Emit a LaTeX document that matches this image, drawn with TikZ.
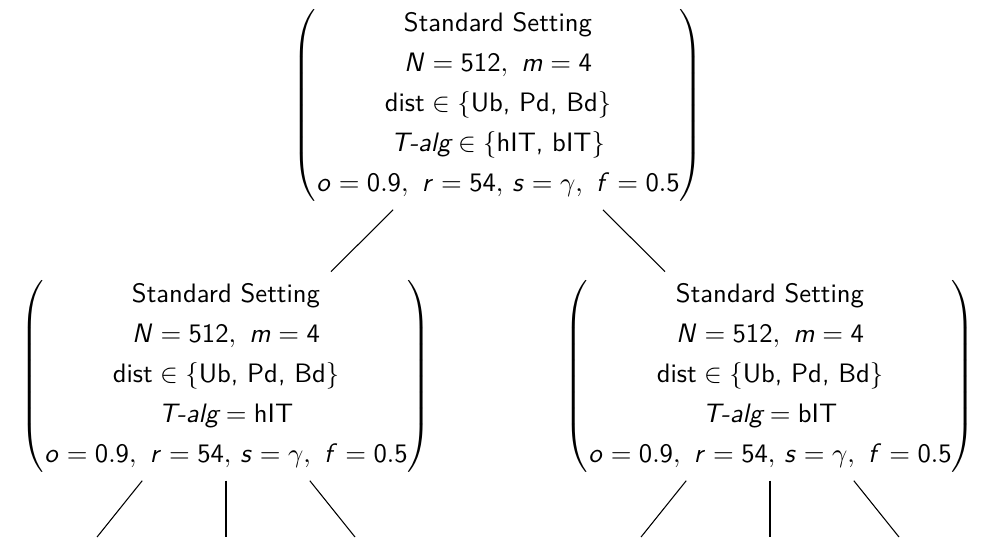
\documentclass[tikz,border=0pt]{standalone}
\usepackage{amsmath}
\usetikzlibrary{calc}

% sans digits and sans slanted letters in math
\DeclareSymbolFont{operators}{OT1}{cmss}{m}{n}
\DeclareSymbolFont{sfslant}{OT1}{cmss}{m}{sl}
\DeclareMathSymbol{N}{\mathalpha}{sfslant}{`N}
\DeclareMathSymbol{m}{\mathalpha}{sfslant}{`m}
\DeclareMathSymbol{o}{\mathalpha}{sfslant}{`o}
\DeclareMathSymbol{r}{\mathalpha}{sfslant}{`r}
\DeclareMathSymbol{s}{\mathalpha}{sfslant}{`s}
\DeclareMathSymbol{f}{\mathalpha}{sfslant}{`f}

% one parameter set, the T-alg row varies
\newcommand{\settingcol}[1]{%
  $\left(\begin{array}{@{}c@{}}
    \text{Standard Setting}\\[3pt]
    N = 512,\ m = 4\\[3pt]
    \text{dist} \in \{\text{Ub, Pd, Bd}\}\\[3pt]
    #1\\[3pt]
    o = 0.9,\ r = 54,\, s = \gamma,\ f = 0.5
  \end{array}\right)$}

\begin{document}
\begin{tikzpicture}[
  setting/.style={font=\sffamily, inner sep=3pt},
  branch/.style={black, line width=.4pt}
]
\useasboundingbox (0,0) rectangle (13.088,7.078);

\node[setting] (root)   at (6.564,5.69) {\settingcol{\textit{T-alg} \in \{\text{hIT, bIT}\}}};
\node[setting] (lchild) at (2.979,2.12) {\settingcol{\textit{T-alg} = \text{hIT}}};
\node[setting] (rchild) at (10.149,2.12) {\settingcol{\textit{T-alg} = \text{bIT}}};

\draw[branch] (root) -- (lchild);
\draw[branch] (root) -- (rchild);

% branches running off the bottom edge
\foreach \kid in {lchild,rchild}{
  \foreach \dx [count=\i] in {-1.70,0,1.70}{
    \coordinate (\kid-\i) at ($(\kid)+(\dx,-2.12)$);
    \draw[branch] (\kid) -- (\kid-\i);
  }
}
\end{tikzpicture}
\end{document}
